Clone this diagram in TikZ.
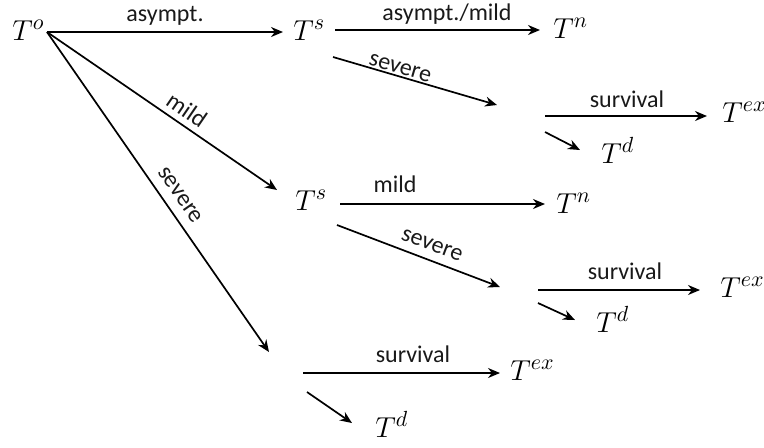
\documentclass[tikz,border=0pt]{standalone}
\usepackage{fontspec}
\setmainfont{Carlito}
\usetikzlibrary{arrows.meta}
\begin{document}
\begin{tikzpicture}[x=0.5pt,y=-0.5pt,
  arr/.style={draw=black,line width=0.85pt,-{Stealth[length=6pt,width=5pt]}},
  tnode/.style={inner sep=0pt,anchor=base west,font=\fontsize{15}{17}\selectfont},
  lbl/.style={inner sep=0pt,anchor=base,font=\fontsize{12}{14}\selectfont,text=black!90}]
\useasboundingbox (0,0) rectangle (764,447);
% state nodes
\node[tnode] (To) at (12,40) {$T^o$};
\node[tnode] (Ts1) at (293,40) {$T^s$};
\node[tnode] (Tn1) at (553,38) {$T^n$};
\node[tnode] (Tex1) at (722,122) {$T^{ex}$};
\node[tnode] (Td1) at (601,163) {$T^d$};
\node[tnode] (Ts2) at (295,210) {$T^s$};
\node[tnode] (Tn2) at (556,213) {$T^n$};
\node[tnode] (Tex2) at (720,297) {$T^{ex}$};
\node[tnode] (Td2) at (596,332) {$T^d$};
\node[tnode] (Tex3) at (510,380) {$T^{ex}$};
\node[tnode] (Td3) at (375,437) {$T^d$};
% connector ends
\coordinate (o) at (47,32);
\coordinate (a1e) at (283,32);
\coordinate (b1s) at (335,30);
\coordinate (b1e) at (540,30);
\coordinate (c1s) at (333,57);
\coordinate (c1e) at (497,105);
\coordinate (d1s) at (545,116);
\coordinate (d1e) at (707,116);
\coordinate (e1s) at (545,132);
\coordinate (e1e) at (580,150);
\coordinate (a2e) at (277,190);
\coordinate (b2s) at (340,204);
\coordinate (b2e) at (545,204);
\coordinate (c2s) at (337,225);
\coordinate (c2e) at (500,287);
\coordinate (d2s) at (538,290);
\coordinate (d2e) at (700,290);
\coordinate (e2s) at (538,303);
\coordinate (e2e) at (575,320);
\coordinate (a3e) at (269,352);
\coordinate (d3s) at (303,373);
\coordinate (d3e) at (500,373);
\coordinate (e3s) at (307,392);
\coordinate (e3e) at (352,423);
% connectors
\draw[arr] (o) -- (a1e);
\draw[arr] (b1s) -- (b1e);
\draw[arr] (c1s) -- (c1e);
\draw[arr] (d1s) -- (d1e);
\draw[arr] (e1s) -- (e1e);
\draw[arr] (o) -- (a2e);
\draw[arr] (b2s) -- (b2e);
\draw[arr] (c2s) -- (c2e);
\draw[arr] (d2s) -- (d2e);
\draw[arr] (e2s) -- (e2e);
\draw[arr] (o) -- (a3e);
\draw[arr] (d3s) -- (d3e);
\draw[arr] (e3s) -- (e3e);
% labels
\node[lbl] (l1) at (165,21) {asympt.};
\node[lbl] (l2) at (447,20) {asympt./mild};
\node[lbl,anchor=center,rotate=-16.3] (l3) at (400,68) {severe};
\node[lbl] (l4) at (627,107) {survival};
\node[lbl,anchor=center,rotate=-34.5] (l5) at (187,110) {mild};
\node[lbl] (l6) at (395,192) {mild};
\node[lbl,anchor=center,rotate=-20.8] (l7) at (432,245) {severe};
\node[lbl] (l8) at (625,279) {survival};
\node[lbl,anchor=center,rotate=-55.2] (l9) at (180,195) {severe};
\node[lbl] (l10) at (413,362) {survival};
\end{tikzpicture}
\end{document}
